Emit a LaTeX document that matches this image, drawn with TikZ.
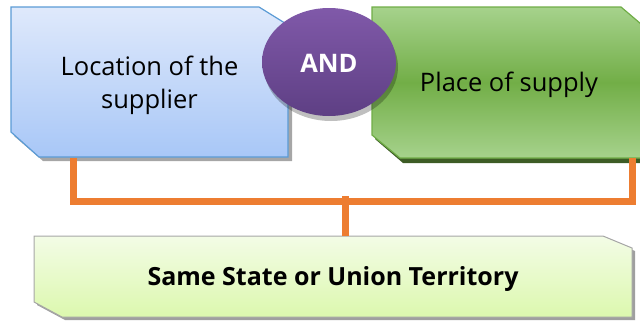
\documentclass[tikz,border=0pt]{standalone}
\usepackage{fontspec}
\setmainfont{Open Sans}
\usetikzlibrary{shadows}
\definecolor{blueA}{HTML}{DFE9FB}
\definecolor{blueB}{HTML}{A8C7F7}
\definecolor{blueLine}{HTML}{5B9BD5}
\definecolor{greenA}{HTML}{A6D28C}
\definecolor{greenM}{HTML}{72AE47}
\definecolor{greenLine}{HTML}{70AD47}
\definecolor{greenDark}{HTML}{3D5C25}
\definecolor{purpA}{HTML}{8059A9}
\definecolor{purpB}{HTML}{5E3F84}
\definecolor{limeA}{HTML}{F3FCE6}
\definecolor{limeB}{HTML}{DCF8AE}
\definecolor{grayLine}{HTML}{A6A6A6}
\definecolor{orangeC}{HTML}{ED7D31}
\tikzset{
  boxtext/.style={draw=none,inner sep=0pt,align=center,text=black,font=\fontsize{25.5}{33}\selectfont},
  connector/.style={draw=orangeC,line width=7pt},
}
\begin{document}
\begin{tikzpicture}[x=1pt,y=-1pt]
\useasboundingbox (0,0) rectangle (640,322);
% blue box
\fill[gray!70] (14,10) -- (262,10) -- (292,28) -- (292,161) -- (43,161) -- (14,136) -- cycle;
\shade[top color=blueA,bottom color=blueB,draw=blueLine,line width=1.2pt]
  (11,7) -- (259,7) -- (288,25) -- (288,157) -- (39,157) -- (11,132) -- cycle;
\node[boxtext,minimum width=277pt,minimum height=144pt] (loc) at (149.5,85) {Location of the\\supplier};
% green box
\fill[greenDark] (375,12) -- (624,12) -- (644,28) -- (644,163) -- (403,163) -- (375,139) -- cycle;
\shade[top color=greenA,bottom color=greenA,middle color=greenM,draw=greenLine,line width=1.2pt]
  (372,7) -- (621,7) -- (641,24) -- (641,158) -- (400,158) -- (372,135) -- cycle;
\node[boxtext,minimum width=269pt,minimum height=146pt] (pos) at (509,85) {Place of supply};
% AND ellipse
\fill[black,opacity=0.25] (331,67) ellipse [x radius=67pt,y radius=54pt];
\shade[top color=purpA,bottom color=purpB] (329,62) ellipse [x radius=67pt,y radius=54pt];
\node[boxtext,text=white,font=\bfseries\fontsize{25.5}{30}\selectfont] (and) at (329,63) {AND};
% bottom box
\fill[gray!75] (37,239) -- (606,239) -- (635,251) -- (635,320) -- (65,320) -- (37,305) -- cycle;
\shade[top color=limeA,bottom color=limeB,draw=grayLine,line width=1pt]
  (34,236) -- (603,236) -- (632,248) -- (632,317) -- (62,317) -- (34,302) -- cycle;
\node[boxtext,minimum width=598pt,minimum height=86pt,font=\bfseries\fontsize{25}{30}\selectfont] (same) at (333,279) {Same State or Union Territory};
% connectors
\coordinate (join) at (345.5,201.5);
\coordinate (jtop) at (345.5,196);
\draw[connector] ([xshift=-76.5pt]loc.south) ++(0,1) |- (join) -| ([xshift=123.5pt]pos.south);
\draw[connector] (same.north -| jtop) -- (jtop);
\end{tikzpicture}
\end{document}
